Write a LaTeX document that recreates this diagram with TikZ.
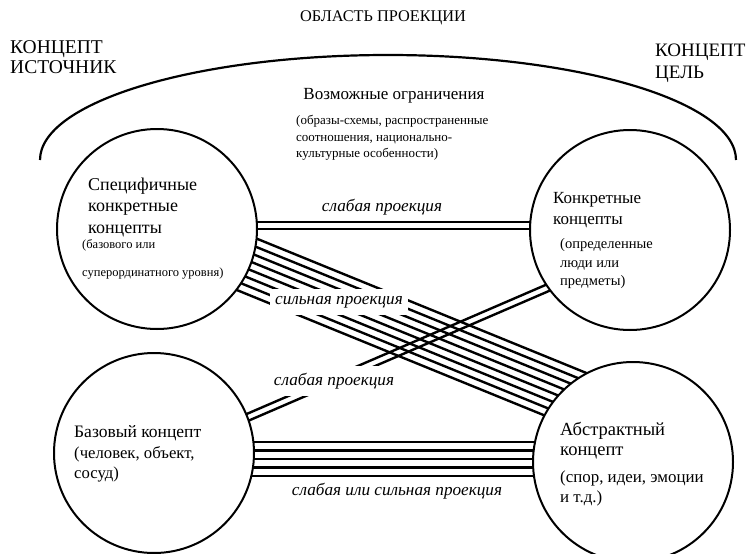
\documentclass[tikz,border=0pt]{standalone}
\usepackage{fontspec}
\setmainfont{Liberation Serif}
\usetikzlibrary{calc,backgrounds}
\newcommand{\fsz}[1]{\fontsize{#1}{#1}\selectfont}
\begin{document}
\begin{tikzpicture}[x=1pt,y=-1pt,
  conc/.style={circle,draw,line width=2pt,fill=white,minimum size=200pt,inner sep=0pt},
  proj/.style={line width=2.4pt},
  arcline/.style={line width=2.2pt},
  txt/.style={anchor=base west,inner sep=0pt},
  lbl/.style={font=\itshape\fsz{17.2},inner sep=3pt},
  lblbg/.style={lbl,fill=white,inner xsep=5pt,inner ysep=7pt},
]
\useasboundingbox (0,0) rectangle (747,554);

% big arc
\coordinate (arcL) at (40,160);
\draw[arcline] (arcL) arc[start angle=180,end angle=360,x radius=348,y radius=105];

% circles
\node[conc] (TL) at (157,229) {};
\node[conc] (TR) at (630,230) {};
\node[conc] (BL) at (154,453) {};
\node[conc] (BR) at (633,462) {};

\begin{scope}[on background layer]
  % weak TL -> TR
  \draw[proj] ($(TL.center)+(0,-7)$) -- ($(TR.center)+(0,-8)$);
  \draw[proj] ($(TL.center)+(0,0)$) -- ($(TR.center)+(0,-1)$);
  % strong TL -> BR
  \foreach \k in {0,...,7}
    \draw[proj] ($(TL.center)+(0,-31+8.5*\k)$) -- ($(BR.center)+(0,-70+8.5*\k)$);
  % weak BL -> TR
  \draw[proj] ($(BL.center)+(0,1)$) -- ($(TR.center)+(0,18.5)$);
  \draw[proj] ($(BL.center)+(0,8.5)$) -- ($(TR.center)+(0,26)$);
  % weak or strong BL -> BR
  \foreach \k in {0,...,4}
    \draw[proj] ($(BL.center)+(0,-11+8.5*\k)$) -- ($(BR.center)+(0,-20+8.5*\k)$);
\end{scope}

% top texts
\node[font=\fsz{16.3}] (area) at (383,18) {ОБЛАСТЬ ПРОЕКЦИИ};
\node[txt,font=\fsz{19.5}] (src1) at (10,53) {КОНЦЕПТ};
\node[txt,font=\fsz{19.5}] (src2) at (10,73) {ИСТОЧНИК};
\node[txt,font=\fsz{19}] (tgt1) at (655,56) {КОНЦЕПТ};
\node[txt,font=\fsz{19}] (tgt2) at (655,78) {ЦЕЛЬ};
\node[font=\fsz{17}] (lim) at (394,96) {Возможные ограничения};
\node[txt,font=\fsz{13}] (lim1) at (296,124) {(образы-схемы, распространенные};
\node[txt,font=\fsz{13}] (lim2) at (296,141) {соотношения, национально-};
\node[txt,font=\fsz{13}] (lim3) at (296,157) {культурные особенности)};

% TL text
\node[txt,font=\fsz{18}] (a1) at (88,190) {Специфичные};
\node[txt,font=\fsz{18}] (a2) at (88,211.5) {конкретные};
\node[txt,font=\fsz{18}] (a3) at (88,233) {концепты};
\node[txt,font=\fsz{12.5}] (a4) at (82,248) {(базового или};
\node[txt,font=\fsz{12.5}] (a5) at (82,276) {суперординатного уровня)};

% TR text
\node[txt,font=\fsz{17}] (b1) at (553,203) {Конкретные};
\node[txt,font=\fsz{17}] (b2) at (553,224) {концепты};
\node[txt,font=\fsz{14.5}] (b3) at (560,248) {(определенные};
\node[txt,font=\fsz{14.5}] (b4) at (560,267) {люди или};
\node[txt,font=\fsz{14.5}] (b5) at (560,285) {предметы)};

% BL text
\node[txt,font=\fsz{17.5}] (c1) at (74,437) {Базовый концепт};
\node[txt,font=\fsz{16.7}] (c2) at (74,458) {(человек, объект,};
\node[txt,font=\fsz{16.7}] (c3) at (74,478) {сосуд)};

% BR text
\node[txt,font=\fsz{18.5}] (d1) at (560,435) {Абстрактный};
\node[txt,font=\fsz{18.5}] (d2) at (560,455) {концепт};
\node[txt,font=\fsz{16.9}] (d3) at (560,482) {(спор, идеи, эмоции};
\node[txt,font=\fsz{16.9}] (d4) at (560,502) {и т.д.)};

% connector labels
\node[lbl] (l1) at (382,207) {слабая проекция};
\node[lblbg] (l2) at (339,302) {сильная проекция};
\node[lblbg] (l3) at (334,381) {слабая проекция};
\node[lbl] (l4) at (397,491) {слабая или сильная проекция};
\end{tikzpicture}
\end{document}
